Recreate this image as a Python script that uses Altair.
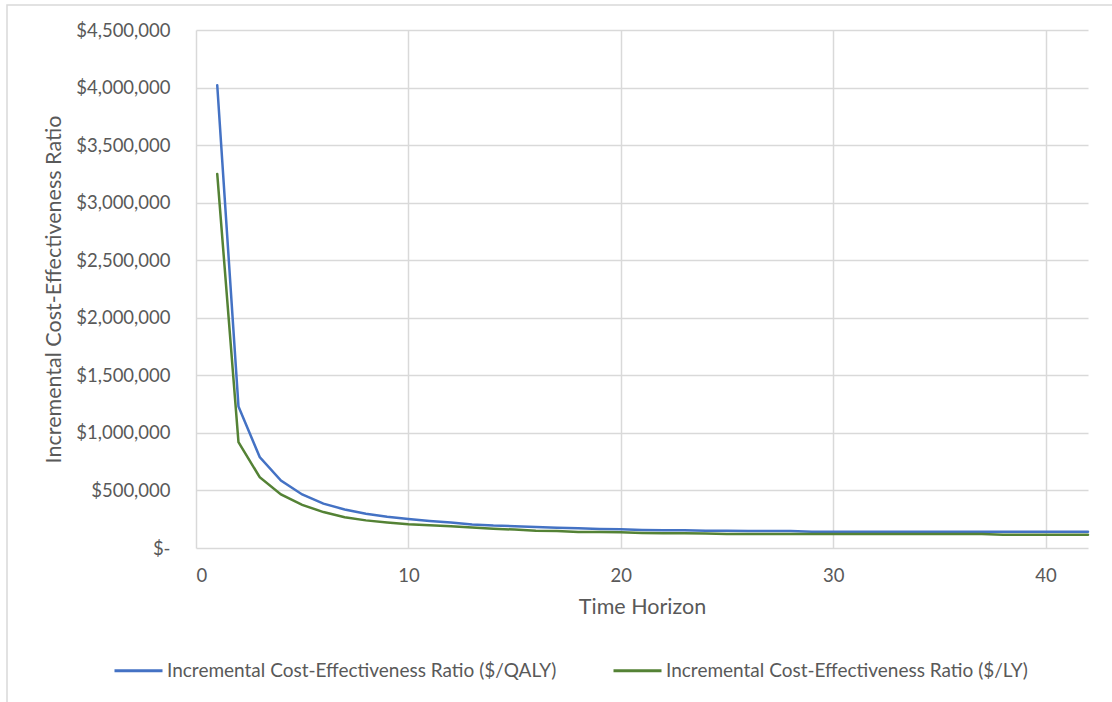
import altair as alt
import pandas as pd

years = list(range(1, 43))
icer_qaly = [4020000, 1230000, 790000, 585000, 465000, 385000, 335000, 298000, 272000, 252000,
             235000, 222000, 205000, 195000, 190000, 182000, 175000, 172000, 165000, 162000,
             157000, 155000, 155000, 150000, 150000, 148000, 148000, 147000, 142000, 142000,
             142000, 142000, 142000, 142000, 142000, 142000, 142000, 142000, 142000, 142000,
             142000, 142000]
icer_ly = [3250000, 920000, 615000, 465000, 375000, 312000, 268000, 240000, 222000, 207000,
           198000, 188000, 178000, 168000, 160000, 150000, 148000, 140000, 138000, 136000,
           130000, 128000, 128000, 126000, 122000, 122000, 122000, 122000, 122000, 122000,
           122000, 122000, 122000, 122000, 122000, 122000, 122000, 115000, 115000, 115000,
           115000, 115000]
series_names = ["Incremental Cost-Effectiveness Ratio ($/QALY)",
                "Incremental Cost-Effectiveness Ratio ($/LY)"]
series_colors = ["#4472C4", "#548235"]
x_ticks = [0, 10, 20, 30, 40]
y_ticks = [i * 500000 for i in range(10)]

rows = []
for x, v in zip(years, icer_qaly):
    rows.append({"x": x, "v": v, "s": series_names[0]})
for x, v in zip(years, icer_ly):
    rows.append({"x": x, "v": v, "s": series_names[1]})
df = pd.DataFrame(rows)

FONT = "Lato"
TXT = "#595959"

lines = alt.Chart(df).mark_line(strokeWidth=2.5, strokeCap="round").encode(
    x=alt.X("x:Q", scale=alt.Scale(domain=[0, 42], nice=False, zero=True),
            axis=alt.Axis(values=x_ticks, title="Time Horizon", grid=True, domain=False,
                          ticks=False, labelPadding=18, titlePadding=12, format="d")),
    y=alt.Y("v:Q", scale=alt.Scale(domain=[0, 4500000], nice=False),
            axis=alt.Axis(values=y_ticks, title="Incremental Cost-Effectiveness Ratio",
                          grid=True, domain=False, ticks=False, labelPadding=26,
                          titlePadding=10,
                          labelExpr="datum.value == 0 ? '$-    ' : '$' + format(datum.value, ',')")),
    color=alt.Color("s:N", scale=alt.Scale(domain=series_names, range=series_colors),
                    legend=alt.Legend(title=None, orient="none", direction="horizontal",
                                      legendX=-83, legendY=615, symbolType="stroke",
                                      symbolSize=2304, symbolStrokeWidth=3, labelOffset=3,
                                      columnPadding=50, labelFontSize=19, labelColor=TXT,
                                      labelFont=FONT, labelLimit=600)),
)

frame = alt.Chart(pd.DataFrame({"k": [0]})).mark_rect(
    fill=None, stroke="#d9d9d9", strokeWidth=1.5
).encode(
    x=alt.value(-189), x2=alt.value(930), y=alt.value(-25), y2=alt.value(690)
)

chart = alt.layer(frame, lines).properties(
    width=892, height=518,
    autosize=alt.AutoSizeParams(type="none"),
    padding={"left": 196, "top": 30, "right": 24, "bottom": 154},
    background="white",
).configure_view(stroke=None, clip=False).configure_axis(
    gridColor="#d9d9d9", gridWidth=1.5, labelColor=TXT, titleColor=TXT,
    labelFont=FONT, titleFont=FONT, labelFontSize=18.5, titleFontSize=21.5,
    titleFontWeight="normal",
)

chart.save("out.html", embed_options={"renderer": "svg", "actions": False})
